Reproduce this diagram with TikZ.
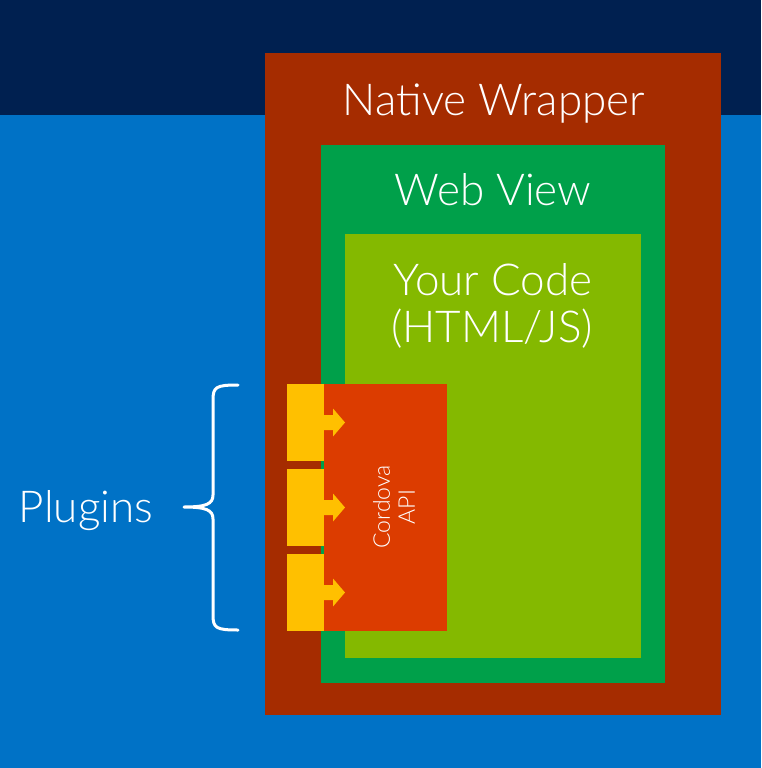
\documentclass[tikz,border=0pt]{standalone}
\usepackage{fontspec}
\setmainfont{Lato Light}
\definecolor{bgblue}{HTML}{0072C6}
\definecolor{bgdark}{HTML}{002050}
\definecolor{native}{HTML}{A52C00}
\definecolor{webview}{HTML}{00A04A}
\definecolor{yourcode}{HTML}{84B900}
\definecolor{cordova}{HTML}{DC3C00}
\definecolor{plugin}{HTML}{FFC000}
\begin{document}
\begin{tikzpicture}[x=1pt,y=-1pt,
  layer/.style={draw=none,inner sep=0pt,outer sep=0pt,anchor=north west},
  bigtext/.style={text=white,inner sep=0pt,anchor=base,font=\fontsize{44}{50}\selectfont},
  smalltext/.style={text=white,inner sep=0pt,align=center,font=\fontsize{23}{25}\selectfont},
  pluginbox/.style={layer,fill=plugin,minimum width=37pt,minimum height=77pt},
  plugarrow/.style={fill=plugin,draw=none}]
\useasboundingbox (0,0) rectangle (761,768);
\fill[bgblue] (0,0) rectangle (761,768);
\fill[bgdark] (0,0) rectangle (761,115);
\node[layer,fill=native,minimum width=456pt,minimum height=662pt] (nw) at (265,53) {};
\node[layer,fill=webview,minimum width=344pt,minimum height=538pt] (wv) at (321,145) {};
\node[layer,fill=yourcode,minimum width=296pt,minimum height=424pt] (yc) at (345,234) {};
\node[layer,fill=cordova,minimum width=123pt,minimum height=247pt] (api) at (324,384) {};
\node[pluginbox] (p1) at (287,384) {};
\node[pluginbox] (p2) at (287,469) {};
\node[pluginbox] (p3) at (287,554) {};
\foreach \p in {p1,p2,p3}{
  \fill[plugarrow] (\p.east) ++(0,-7.5) -- ++(9,0) -- ++(0,-6.5) -- ++(12,14) -- ++(-12,14) -- ++(0,-6.5) -- ++(-9,0) -- cycle;
}
\node[bigtext] (nwt) at (494,115) {Native Wrapper};
\node[bigtext] (wvt) at (493,205) {Web View};
\node[bigtext] (yct) at (493,295) {Your Code};
\node[bigtext] (yct2) at (492,342) {(HTML/JS)};
\node[smalltext,rotate=90] (apit) at (394,507) {Cordova\\API};
\node[bigtext] (plt) at (86,522) {Plugins};
\coordinate (btop) at (238,385);
\coordinate (btip) at (184,507);
\coordinate (bbot) at (238,630);
\draw[white,line width=3pt,line cap=round,line join=round]
  (btop) .. controls (216,385) and (213,387) .. (213,400) -- (213,495)
  .. controls (213,504) and (206,507) .. (btip)
  .. controls (206,507) and (213,510) .. (213,519) -- (213,615)
  .. controls (213,628) and (216,630) .. (bbot);
\end{tikzpicture}
\end{document}
